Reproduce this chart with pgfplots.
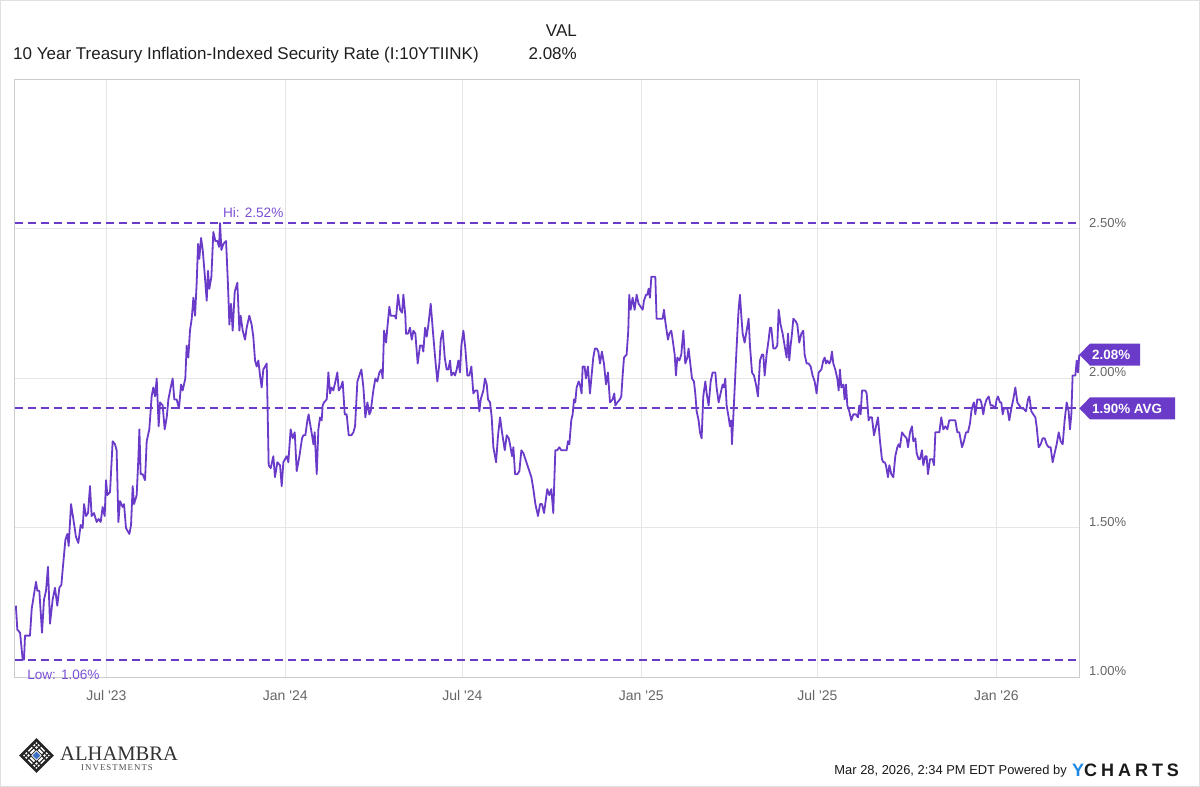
\documentclass[border=0pt]{standalone}
\usepackage{pgfplots}
\pgfplotsset{compat=1.18}
\usepackage{pgfplotstable}
\usepackage{fontspec}
\setmainfont{Liberation Sans}
\newfontfamily\seriffont{Liberation Serif}
\definecolor{purp}{HTML}{6A3BC9}
\definecolor{purptext}{HTML}{7B50D6}
\definecolor{ticklab}{HTML}{666666}
\definecolor{ycblue}{HTML}{1E88E5}
\definecolor{logoblue}{HTML}{3A6FC4}

\pgfplotstableread{
d v
88 1.24
89.5 1.16
92.3 1.15
95 1.06
96.4 1.06
97.4 1.14
102.5 1.14
104.3 1.23
108.7 1.32
110.1 1.29
112.1 1.29
114.9 1.15
116.9 1.26
119 1.29
121 1.37
123.1 1.18
125.8 1.26
128.2 1.30
130.6 1.24
132.7 1.30
134.8 1.31
136.1 1.36
138.9 1.46
140.9 1.48
142.3 1.44
144.7 1.58
147.1 1.53
149.8 1.47
152.2 1.45
154.6 1.51
156.7 1.50
158.1 1.58
160.1 1.54
162.2 1.55
164.2 1.64
165.9 1.54
168.3 1.55
171.1 1.52
173.1 1.53
175.2 1.52
177.2 1.57
179.3 1.54
180.7 1.66
182.1 1.61
184.8 1.62
187.5 1.79
189.9 1.78
191.6 1.76
193.4 1.52
195.1 1.59
197.8 1.57
199.2 1.58
201.2 1.50
204.7 1.48
206.4 1.51
208.1 1.64
209.5 1.58
212.2 1.61
213.9 1.73
215.0 1.83
216.3 1.68
218.4 1.68
220.8 1.66
222.5 1.79
225.2 1.83
227.6 1.94
229.3 1.97
231.1 1.94
232.8 2.00
234.8 1.84
236.2 1.92
238.9 1.91
241.0 1.83
243.1 1.87
244.8 1.93
247.2 1.97
249.2 2.00
250.9 1.93
253.3 1.93
255.7 1.90
257.8 1.98
259.5 1.96
262.2 2.00
263.6 2.11
265.3 2.07
267.0 2.16
268.8 2.20
270.5 2.27
272.2 2.21
273.9 2.32
275.3 2.45
276.6 2.40
278.4 2.47
280.1 2.43
282.1 2.35
284.2 2.26
285.5 2.36
286.9 2.30
289.0 2.34
291.0 2.49
293.1 2.46
295.1 2.46
296.9 2.44
297.9 2.52
299.3 2.43
301.3 2.45
304.1 2.46
306.1 2.31
307.5 2.18
309.2 2.25
310.9 2.16
313.0 2.29
315.7 2.32
317.8 2.16
319.1 2.21
321.2 2.16
323.6 2.13
325.3 2.17
328.0 2.21
330.4 2.18
332.1 2.14
333.9 2.06
335.6 2.04
337.3 2.06
339.0 2.01
340.7 1.97
342.4 2.03
345.9 2.05
347.9 1.71
350.0 1.70
352.7 1.74
354.4 1.67
356.8 1.72
359.6 1.71
361.3 1.64
363.0 1.72
366.4 1.74
368.1 1.72
370.5 1.83
372.6 1.80
374.7 1.82
376.7 1.69
379.5 1.74
382.2 1.80
383.6 1.81
385.6 1.81
387.7 1.86
389.0 1.88
390.4 1.85
392.5 1.81
393.9 1.78
395.2 1.82
397.3 1.68
399.0 1.83
400.7 1.87
402.4 1.86
403.4 1.91
404.8 1.92
407.6 1.93
409.3 2.02
411.0 1.95
412.4 1.97
414.4 1.96
416.5 1.99
418.5 2.02
419.9 1.96
422.0 1.97
424.0 1.99
426.1 1.88
428.1 1.88
430.2 1.81
432.9 1.81
435.0 1.82
436.7 1.84
439.1 1.99
441.1 2.01
443.2 2.03
445.3 1.97
447.3 1.87
449.4 1.92
451.4 1.88
452.8 1.89
455.5 1.96
457.6 2.00
459.6 1.99
461.7 2.02
463.8 2.03
465.1 2.00
466.5 2.16
468.6 2.12
469.9 2.17
472.0 2.24
473.4 2.21
475.4 2.21
477.5 2.21
478.8 2.20
480.9 2.28
483.0 2.23
485.0 2.22
486.4 2.28
488.4 2.21
489.1 2.15
491.2 2.15
493.2 2.17
495.0 2.13
496.7 2.16
498.7 2.15
501.1 2.05
503.5 2.11
505.6 2.11
506.9 2.09
508.7 2.17
510.4 2.14
512.1 2.18
514.5 2.25
517.2 2.14
519.3 2.06
521.3 1.99
523.4 2.05
524.8 2.13
526.8 2.16
528.9 2.07
530.9 2.03
532.6 2.03
534.4 2.06
535.7 2.01
537.8 2.02
539.5 2.01
541.2 2.03
542.9 2.06
544.6 2.02
546.0 2.11
548.1 2.16
550.1 2.10
552.2 2.01
554.2 2.01
556.3 2.04
558.3 1.95
560.4 1.96
562.5 1.96
564.5 1.89
565.9 1.93
568.6 1.96
570.3 2.00
572.1 1.98
573.4 1.93
575.5 1.92
577.2 1.87
578.9 1.77
581.7 1.72
583.7 1.81
585.8 1.87
587.8 1.82
590.6 1.76
592.6 1.81
594.7 1.80
596.0 1.78
598.1 1.74
599.5 1.77
601.2 1.68
603.6 1.68
605.6 1.69
607.7 1.76
609.8 1.75
611.8 1.73
613.9 1.71
615.9 1.69
618.0 1.67
620.0 1.63
622.1 1.58
624.8 1.54
626.9 1.58
628.9 1.58
631.0 1.55
634.3 1.63
636.4 1.61
638.5 1.63
640.5 1.55
642.6 1.76
644.6 1.76
646.7 1.77
648.7 1.76
654.2 1.76
655.6 1.79
657.0 1.78
659.0 1.86
660.4 1.88
661.8 1.93
663.1 1.92
664.5 1.97
666.6 1.99
667.9 1.98
669.6 1.95
670.7 2.04
672.7 2.04
674.1 2.00
676.1 2.04
678.2 1.95
679.9 2.01
681.6 2.07
683.3 2.10
685.1 2.10
686.8 2.09
688.5 2.05
690.5 2.09
692.6 2.05
694.7 1.98
696.7 2.02
698.8 1.92
701.5 1.93
703.2 1.95
704.3 1.91
706.3 1.92
709.0 1.93
710.4 1.94
711.8 2.01
713.2 2.07
715.9 2.08
717.6 2.16
718.6 2.28
720.0 2.23
722.1 2.27
724.1 2.23
726.2 2.28
728.2 2.25
730.3 2.24
732.4 2.23
733.7 2.26
735.8 2.28
737.2 2.28
738.5 2.30
739.9 2.27
741.3 2.34
744.0 2.34
745.4 2.34
746.7 2.20
748.8 2.20
750.9 2.20
752.9 2.20
754.3 2.23
755.7 2.19
757.0 2.16
758.4 2.13
759.8 2.15
761.8 2.16
763.2 2.13
765.3 2.08
766.6 2.01
768.0 2.07
770.1 2.06
772.1 2.08
774.2 2.16
776.2 2.05
778.3 2.07
779.6 2.10
781.0 2.06
783.1 2.00
785.1 1.99
786.5 1.95
787.9 1.89
789.9 1.86
791.3 1.82
793.0 1.80
794.7 1.94
796.8 1.99
798.2 1.95
800.2 1.91
802.3 1.99
804.3 2.02
807.1 2.02
808.4 1.97
810.5 1.92
812.5 1.95
814.6 1.98
816.0 1.97
817.3 2.00
818.7 1.91
820.8 1.87
822.1 1.84
823.5 1.86
824.2 1.78
826.3 1.92
828.3 2.06
829.7 2.15
831.0 2.23
832.4 2.28
833.8 2.21
835.2 2.15
837.2 2.12
839.3 2.16
841.3 2.20
842.7 2.11
844.8 2.02
846.8 2.01
848.9 1.98
850.9 1.94
853.0 2.06
855.0 2.08
856.4 2.08
857.8 2.01
859.8 2.08
861.9 2.13
863.3 2.17
864.6 2.17
866.7 2.10
868.7 2.10
870.8 2.11
872.2 2.23
874.2 2.18
876.3 2.15
878.3 2.11
880.4 2.07
881.8 2.15
883.1 2.06
884.5 2.11
885.9 2.15
887.3 2.20
890.0 2.19
891.4 2.18
893.4 2.12
895.5 2.15
897.5 2.16
898.9 2.08
901.0 2.05
903.0 2.05
905.1 2.04
907.1 2.01
909.2 1.99
911.2 1.95
913.3 2.02
916.1 2.03
918.1 2.06
919.5 2.07
920.9 2.05
922.2 2.06
924.3 2.05
925.6 2.06
927.0 2.09
928.4 2.05
930.4 2.03
932.5 2.00
933.9 1.96
935.2 2.03
936.6 1.97
938.7 1.98
940.0 1.93
941.4 1.98
942.8 1.91
944.8 1.89
946.9 1.86
948.9 1.88
951.7 1.88
953.7 1.87
955.1 1.91
956.5 1.88
957.9 1.96
959.2 1.96
961.3 1.96
962.7 1.95
964.7 1.86
966.1 1.87
968.1 1.87
970.2 1.81
972.3 1.84
974.3 1.87
976.4 1.79
978.4 1.73
979.8 1.72
981.2 1.72
982.5 1.71
984.6 1.67
986.0 1.71
988.0 1.68
990.1 1.67
992.1 1.74
994.2 1.77
995.6 1.78
996.9 1.77
999.0 1.82
1001.0 1.81
1003.8 1.80
1005.2 1.77
1007.2 1.82
1009.3 1.84
1010.6 1.79
1012.7 1.80
1014.1 1.75
1016.1 1.73
1017.5 1.73
1019.5 1.76
1020.9 1.71
1023.0 1.74
1024.3 1.74
1025.7 1.68
1027.8 1.73
1030.5 1.73
1031.9 1.71
1033.3 1.82
1035.3 1.82
1037.4 1.82
1039.4 1.87
1041.5 1.83
1043.5 1.84
1045.6 1.83
1047.6 1.86
1049.7 1.86
1051.8 1.86
1053.8 1.86
1055.9 1.82
1057.9 1.82
1060.7 1.77
1062.7 1.79
1064.8 1.82
1066.8 1.82
1068.9 1.85
1070.3 1.89
1071.8 1.91
1073.0 1.92
1074.4 1.88
1076.4 1.93
1079.2 1.93
1080.5 1.92
1082.6 1.88
1084.0 1.91
1086.0 1.93
1088.1 1.94
1090.1 1.91
1092.2 1.91
1094.9 1.90
1096.3 1.93
1097.7 1.94
1099.7 1.92
1101.1 1.92
1102.5 1.88
1103.9 1.90
1105.2 1.90
1107.3 1.90
1109.3 1.86
1111.4 1.90
1113.4 1.93
1115.5 1.97
1117.6 1.92
1119.6 1.91
1121.7 1.90
1123.7 1.90
1126.5 1.89
1128.5 1.93
1129.9 1.94
1132.0 1.89
1134.0 1.88
1136.1 1.87
1137.4 1.84
1139.5 1.77
1141.6 1.78
1143.6 1.80
1145.7 1.80
1147.7 1.78
1149.8 1.77
1151.8 1.77
1153.9 1.72
1155.9 1.75
1158.0 1.78
1160.1 1.82
1162.1 1.79
1164.2 1.78
1166.2 1.86
1168.3 1.92
1170.3 1.89
1171.7 1.83
1173.1 1.88
1174.4 2.01
1177.2 2.01
1178.6 2.06
1179.9 2.02
1181.3 2.08
}\datatable

\begin{document}
\begin{tikzpicture}[x=1bp,y=1bp]
\fill[white] (0,0) rectangle (1200,787);
\draw[black!12, line width=1bp] (0.5,0.5) rectangle (1199.5,786.5);

\begin{axis}[
  at={(14.7bp,109.5bp)}, anchor=south west,
  scale only axis, width=1064.6bp, height=598bp,
  xmin=86.8, xmax=1181.3, ymin=1, ymax=3,
  axis line style={draw=black!20, line width=1bp},
  grid=major, major grid style={draw=black!10, line width=1bp},
  xtick={181,365,547,731,912,1096},
  xticklabels={Jul \textquotesingle23, Jan \textquotesingle24, Jul \textquotesingle24, Jan \textquotesingle25, Jul \textquotesingle25, Jan \textquotesingle26},
  ytick={1,1.5,2,2.5},
  yticklabels={1.00\%,1.50\%,2.00\%,2.50\%},
  ytick pos=right, yticklabel pos=right,
  major tick length=0pt,
  tick style={draw=none},
  xticklabel style={font=\fontsize{14bp}{16bp}\selectfont, text=ticklab, anchor=base, inner sep=0pt, yshift=-23.5bp},
  yticklabel style={font=\fontsize{13bp}{15bp}\selectfont, text=ticklab, anchor=base west, inner sep=0pt, xshift=9.7bp, yshift=1.7bp},
  clip=false,
]
\addplot[purp, line width=1.8bp, line join=round, no markers] table[x=d, y=v] {\datatable};
\addplot[purp, line width=2bp, dash pattern=on 8bp off 5bp, no markers] coordinates {(86.8,2.52) (1181.3,2.52)};
\addplot[purp, line width=2bp, dash pattern=on 8bp off 5bp, no markers] coordinates {(86.8,1.90) (1181.3,1.90)};
\addplot[purp, line width=2bp, dash pattern=on 8bp off 5bp, no markers] coordinates {(86.8,1.06) (1181.3,1.06)};

\node[anchor=base west, inner sep=0pt, text=purptext, font=\fontsize{13.6bp}{16bp}\selectfont, yshift=5.5bp] at (axis cs:300.9,2.52) {Hi: 2.52\%};
\node[anchor=base west, inner sep=0pt, text=purptext, font=\fontsize{13.6bp}{16bp}\selectfont, yshift=-19.7bp] at (axis cs:99.5,1.06) {Low: 1.06\%};

\fill[purp] (axis cs:1181.3,2.08) -- ++(10.7bp,11bp) -- ++(50bp,0bp) -- ++(0bp,-22bp) -- ++(-50bp,0bp) -- cycle;
\node[anchor=base west, inner sep=0pt, text=white, font=\bfseries\fontsize{13.4bp}{16bp}\selectfont, xshift=12.7bp, yshift=-4.8bp] at (axis cs:1181.3,2.08) {2.08\%};
\fill[purp] (axis cs:1181.3,1.90) -- ++(10.7bp,11bp) -- ++(85bp,0bp) -- ++(0bp,-22bp) -- ++(-85bp,0bp) -- cycle;
\node[anchor=base west, inner sep=0pt, text=white, font=\bfseries\fontsize{13.4bp}{16bp}\selectfont, xshift=12.7bp, yshift=-4.8bp] at (axis cs:1181.3,1.90) {1.90\% AVG};
\end{axis}

% title
\node[anchor=base west, inner sep=0pt, font=\fontsize{17bp}{20bp}\selectfont, text=black!88] at (13,727) {10 Year Treasury Inflation-Indexed Security Rate (I:10YTIINK)};
\node[anchor=base east, inner sep=0pt, font=\fontsize{17bp}{20bp}\selectfont, text=black!88] at (577,750) {VAL};
\node[anchor=base east, inner sep=0pt, font=\fontsize{17bp}{20bp}\selectfont, text=black!88] at (577,727) {2.08\%};

% footer
\node[anchor=base east, inner sep=0pt, font=\fontsize{12.9bp}{15bp}\selectfont, text=black!90] at (1067,12) {Mar 28, 2026, 2:34 PM EDT Powered by};
\node[anchor=base west, inner sep=0pt, font=\bfseries\fontsize{18bp}{20bp}\selectfont\addfontfeature{LetterSpace=22}, text=black!90] at (1072,10.5) {\textcolor{ycblue}{Y}CHARTS};

% logo
\begin{scope}[shift={(36.5,31.5)}, rotate=45]
  \draw[line width=2.6bp, black!85] (-11,-11) rectangle (11,11);
  \draw[line width=1.5bp, black!85] (-11,-3.7)--(11,-3.7) (-11,3.7)--(11,3.7) (-3.7,-11)--(-3.7,11) (3.7,-11)--(3.7,11);
  \draw[line width=1bp, black!85] (-7.3,-11)--(-7.3,11) (7.3,-11)--(7.3,11) (-11,-7.3)--(11,-7.3) (-11,7.3)--(11,7.3);
  \fill[white] (-3.7,-3.7) rectangle (3.7,3.7);
  \fill[logoblue] (-2.7,-2.7) rectangle (2.7,2.7);
\end{scope}
\node[anchor=base west, inner sep=0pt, font=\seriffont\fontsize{20.6bp}{22bp}\selectfont, text=black!80] at (60,26.3) {ALHAMBRA};
\node[anchor=base west, inner sep=0pt, font=\seriffont\fontsize{8.8bp}{10bp}\selectfont\addfontfeature{LetterSpace=12}, text=black!70] at (81,16) {INVESTMENTS};
\end{tikzpicture}
\end{document}
